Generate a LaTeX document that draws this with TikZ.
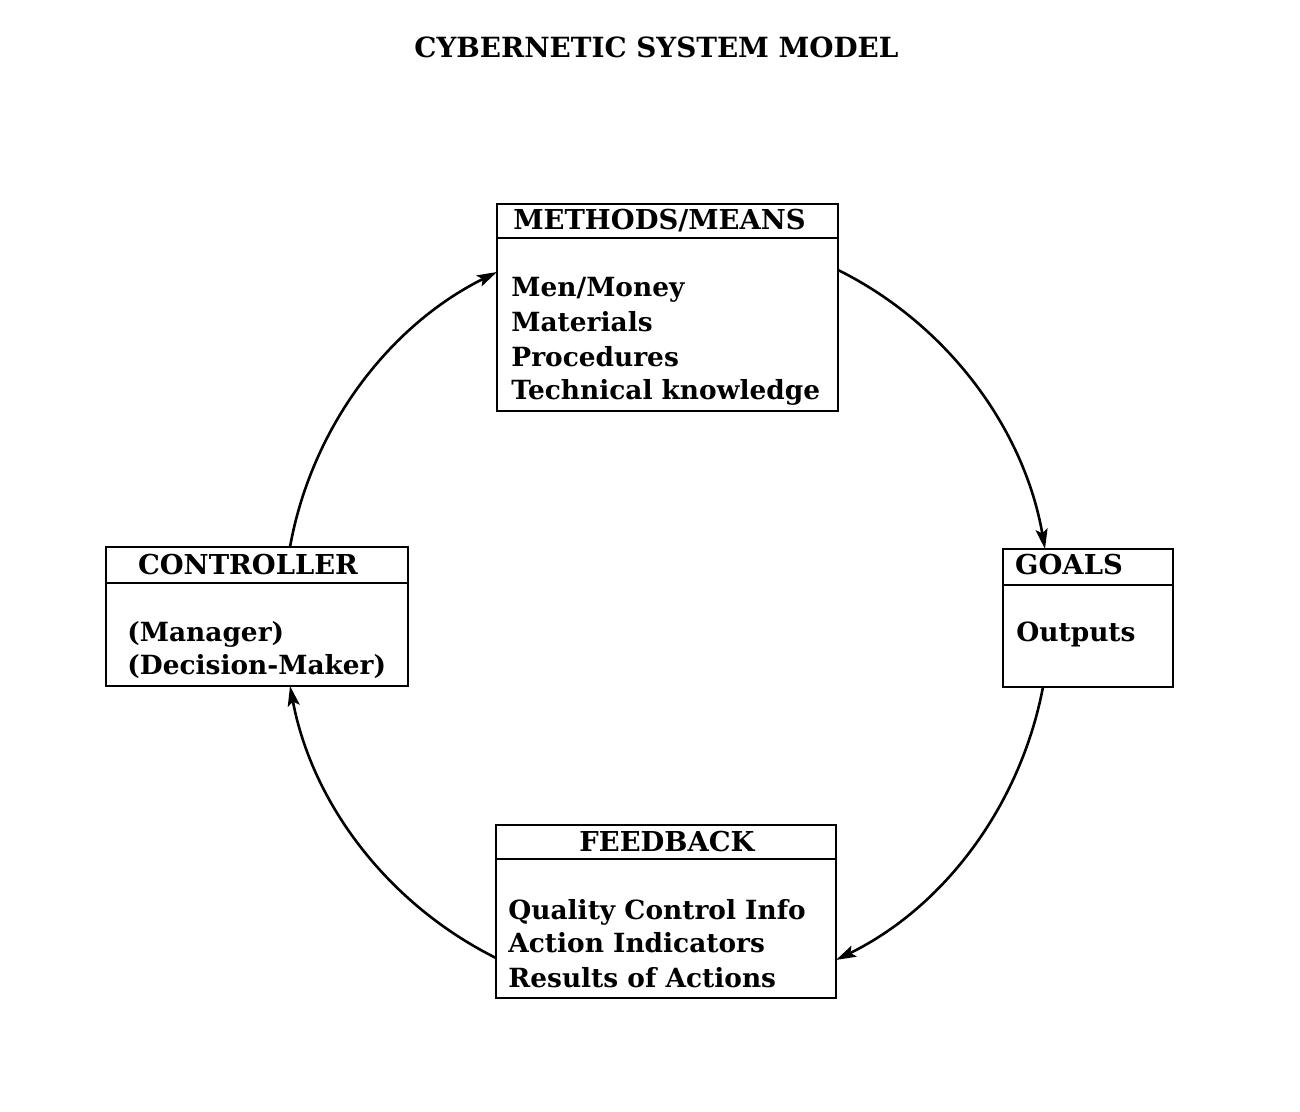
\documentclass[tikz,border=0pt]{standalone}
\usepackage{fontspec}
\setmainfont{DejaVu Serif}
\usetikzlibrary{arrows.meta}
\tikzset{
  box/.style={draw, line width=1.4pt, rectangle, inner sep=0pt, outer sep=0pt},
  divider/.style={line width=1.4pt},
  hdr/.style={anchor=base, inner sep=0pt, font=\fontsize{13.7}{16}\selectfont\bfseries},
  body/.style={anchor=base west, inner sep=0pt, font=\fontsize{13.2}{16}\selectfont\bfseries},
  ttl/.style={anchor=base, inner sep=0pt, font=\fontsize{13.9}{16}\selectfont\bfseries},
  conn/.style={line width=1.3pt, -{Stealth[length=10pt,width=6pt,inset=2pt]}, looseness=0.9},
}
\begin{document}
\begin{tikzpicture}[x=0.5pt,y=0.5pt]
\useasboundingbox (0,0) rectangle (1300,1112);
% title
\node[ttl] (title) at (656.5,1054) {CYBERNETIC SYSTEM MODEL};
% boxes
\node[box, minimum width=170.5pt, minimum height=103.5pt] (meth) at (667.5,804.5) {};
\node[box, minimum width=151pt, minimum height=69.5pt] (ctrl) at (257,495.5) {};
\node[box, minimum width=85pt, minimum height=69pt] (goal) at (1088,494) {};
\node[box, minimum width=170pt, minimum height=86.5pt] (feed) at (666,200.5) {};
% dividers
\draw[divider] ([yshift=-17pt]meth.north west) -- ([yshift=-17pt]meth.north east);
\draw[divider] ([yshift=-18pt]ctrl.north west) -- ([yshift=-18pt]ctrl.north east);
\draw[divider] ([yshift=-18pt]goal.north west) -- ([yshift=-18pt]goal.north east);
\draw[divider] ([yshift=-17pt]feed.north west) -- ([yshift=-17pt]feed.north east);
% headers
\node[hdr] (methh) at (659.5,882) {METHODS/MEANS};
\node[hdr] (ctrlh) at (248,537) {CONTROLLER};
\node[hdr] (goalh) at (1069,537) {GOALS};
\node[hdr] (feedh) at (667,260) {FEEDBACK};
% bodies
\node[body] (m1) at (511,815) {Men/Money};
\node[body] (m2) at (511,780) {Materials};
\node[body] (m3) at (511,745) {Procedures};
\node[body] (m4) at (511,712) {Technical knowledge};
\node[body] (c1) at (127,470) {(Manager)};
\node[body] (c2) at (127,437) {(Decision-Maker)};
\node[body] (g1) at (1016,470) {Outputs};
\node[body] (f1) at (508,192) {Quality Control Info};
\node[body] (f2) at (508,159) {Action Indicators};
\node[body] (f3) at (508,124) {Results of Actions};
% connector end points
\coordinate (c1s) at ([xshift=16.5pt]ctrl.north);
\coordinate (m1e) at ([yshift=17.75pt]meth.west);
\coordinate (m2s) at ([yshift=18.75pt]meth.east);
\coordinate (g1e) at ([xshift=-21.5pt]goal.north);
\coordinate (g2s) at ([xshift=-22.5pt]goal.south);
\coordinate (f1e) at ([yshift=-24.25pt]feed.east);
\coordinate (f2s) at ([yshift=-23.25pt]feed.west);
\coordinate (c2e) at ([xshift=16.5pt]ctrl.south);
% connectors
\draw[conn] (c1s) to[out=79.8, in=206.4] (m1e);
\draw[conn] (m2s) to[out=-26.4, in=99.9] (g1e);
\draw[conn] (g2s) to[out=-100.8, in=26.1] (f1e);
\draw[conn] (f2s) to[out=153.5, in=-79.3] (c2e);
\end{tikzpicture}
\end{document}
